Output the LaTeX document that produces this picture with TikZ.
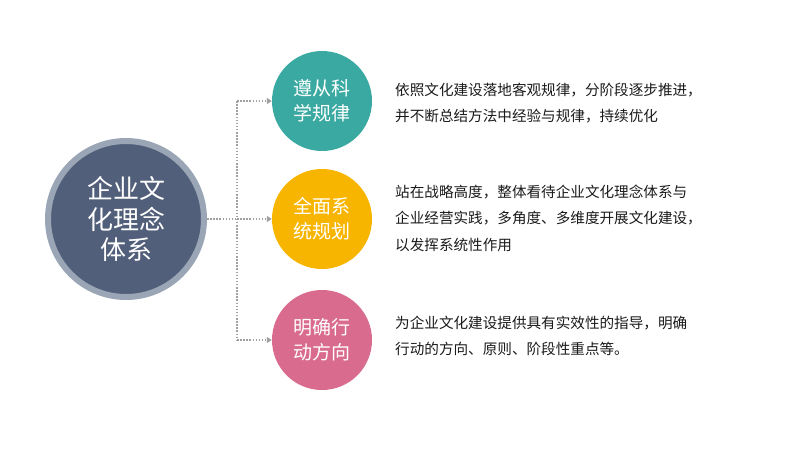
\documentclass[tikz,border=0pt]{standalone}
\usepackage{fontspec}
\setmainfont{Noto Sans CJK SC}
\usetikzlibrary{arrows.meta}
\definecolor{mainBlue}{HTML}{525F7A}
\definecolor{ringBlue}{HTML}{9AA6B6}
\definecolor{sciTeal}{HTML}{3AA9A1}
\definecolor{sysYellow}{HTML}{F7B500}
\definecolor{actPink}{HTML}{D96B8E}
\definecolor{linkGrey}{HTML}{A0A0A0}
\definecolor{descText}{HTML}{1A1A1A}

\begin{document}
\begin{tikzpicture}[x=1pt,y=-1pt]
  \tikzset{
    goal/.style={circle,minimum size=100pt,inner sep=0pt,text=white,align=center,
      font=\fontsize{19}{25}\selectfont},
    desc/.style={anchor=west,align=left,inner sep=0pt,text=descText,
      font=\fontsize{14.6}{26.5}\selectfont},
    link/.style={linkGrey,line width=1.5pt,dash pattern=on 1.5pt off 1.6pt},
    tip/.style={-{Triangle[width=6pt,length=5pt]}}
  }
  \useasboundingbox (0,0) rectangle (800,450);
  \node[circle,fill=mainBlue,draw=ringBlue,line width=6pt,minimum size=156pt,
    text=white,align=center,font=\fontsize{26}{30.5}\selectfont] (main) at (126,219)
    {企业文\\化理念\\体系};
  \node[goal,fill=sciTeal] (goal-1) at (322,101) {遵从科\\学规律};
  \node[goal,fill=sysYellow] (goal-2) at (322,219) {全面系\\统规划};
  \node[goal,fill=actPink] (goal-3) at (322,340) {明确行\\动方向};
  \node[desc] (desc-1) at (395,103)
    {依照文化建设落地客观规律，分阶段逐步推进，\\并不断总结方法中经验与规律，持续优化};
  \node[desc] (desc-2) at (395,218)
    {站在战略高度，整体看待企业文化理念体系与\\企业经营实践，多角度、多维度开展文化建设，\\以发挥系统性作用};
  \node[desc] (desc-3) at (395,336)
    {为企业文化建设提供具有实效性的指导，明确\\行动的方向、原则、阶段性重点等。};
  % dotted links
  \coordinate (fork) at (237,219);
  \coordinate (fork-1) at (237,101);
  \coordinate (fork-3) at (237,340);
  \draw[link] (main.east) -- (fork);
  \draw[link] (fork-1) -- (fork-3);
  \draw[link,tip] (fork-1) -- (goal-1.west);
  \draw[link,tip] (fork) -- (goal-2.west);
  \draw[link,tip] (fork-3) -- (goal-3.west);
\end{tikzpicture}
\end{document}
